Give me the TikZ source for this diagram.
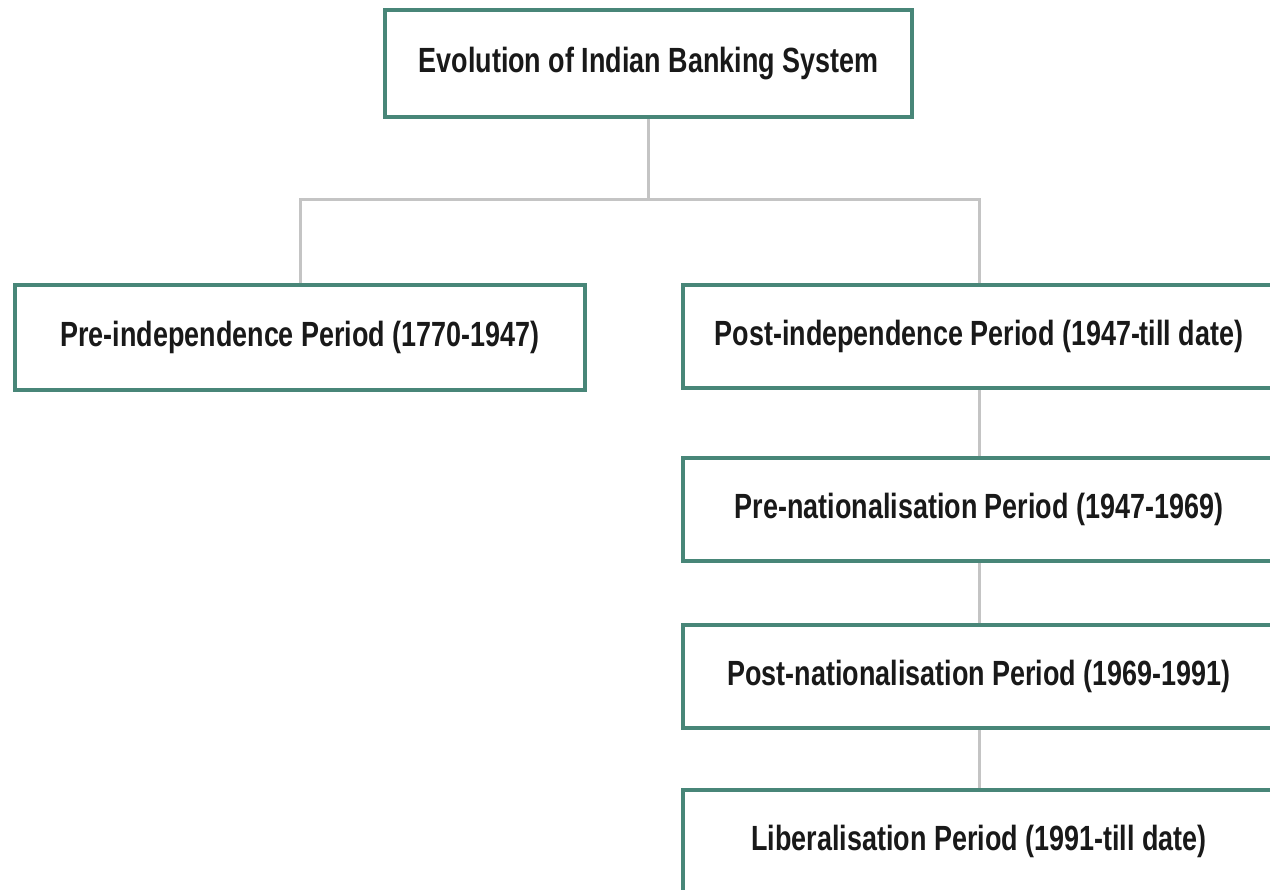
\documentclass[tikz,border=0pt]{standalone}
\usepackage{fontspec}
\usetikzlibrary{backgrounds}
\newfontfamily\narrowsans[FakeStretch=0.77]{Liberation Sans}
\definecolor{boxline}{RGB}{72,134,120}
\definecolor{connline}{RGB}{196,196,196}
\begin{document}
\begin{tikzpicture}[x=1pt,y=-1pt,
  box/.style={draw=boxline,line width=4pt,fill=white,rectangle,inner sep=0pt,
    font=\narrowsans\bfseries\fontsize{35}{42}\selectfont,text=black!90},
  conn/.style={draw=connline,line width=3pt}]
\useasboundingbox (0,0) rectangle (1270,890);
\clip (0,0) rectangle (1270,890);
\node[box,minimum width=527pt,minimum height=107pt] (top) at (648.5,63.5) {Evolution of Indian Banking System};
\node[box,minimum width=570pt,minimum height=105pt] (pre) at (300,337.5) {Pre-independence Period (1770-1947)};
\node[box,minimum width=592pt,minimum height=103pt] (post) at (979,336.5) {Post-independence Period (1947-till date)};
\node[box,minimum width=592pt,minimum height=103pt] (prenat) at (979,509.5) {Pre-nationalisation Period (1947-1969)};
\node[box,minimum width=592pt,minimum height=103pt] (postnat) at (979,676.5) {Post-nationalisation Period (1969-1991)};
\node[box,minimum width=592pt,minimum height=103pt] (lib) at (979,841.5) {Liberalisation Period (1991-till date)};
\coordinate (j) at (648.5,200);
\begin{scope}[on background layer]
\fill[white] (0,0) rectangle (1270,890);
\path[conn] (top.south) -- (j);
\path[conn] (pre.north) |- (j) -| (post.north);
\path[conn] (post.south) -- (prenat.north);
\path[conn] (prenat.south) -- (postnat.north);
\path[conn] (postnat.south) -- (lib.north);
\end{scope}
\end{tikzpicture}
\end{document}
